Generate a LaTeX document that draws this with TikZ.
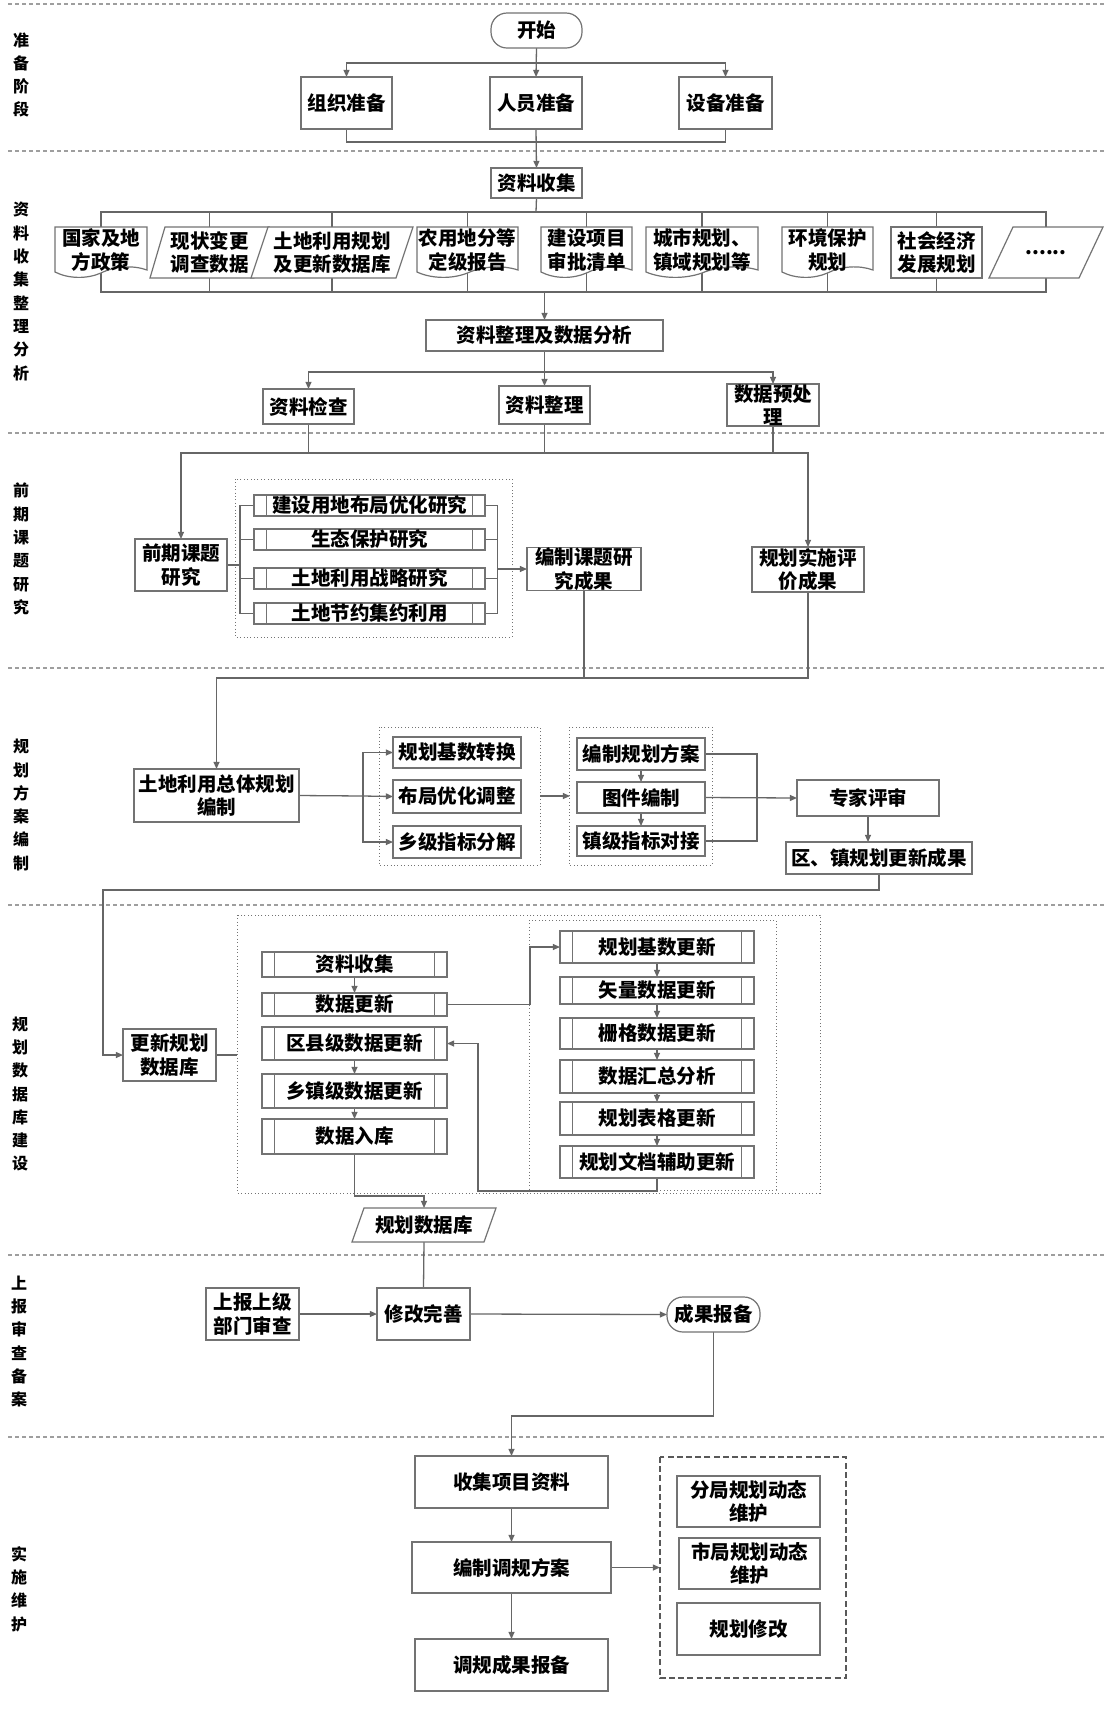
\documentclass[tikz,border=0pt]{standalone}
\usepackage{fontspec}
\setmainfont{Noto Sans CJK SC}
\usetikzlibrary{arrows.meta,backgrounds,calc}
\definecolor{boxc}{gray}{0.45}
\definecolor{linec}{gray}{0.4}
\definecolor{sepc}{gray}{0.62}
\definecolor{dotc}{gray}{0.45}
\tikzset{
  box/.style={draw=boxc, line width=0.6pt, fill=white, inner sep=0pt, outer sep=0pt, align=center,
    font=\fontsize{9.75}{11.65}\selectfont\bfseries},
  boxline/.style={draw=boxc, line width=0.6pt},
  conn/.style={draw=linec, line width=0.65pt},
  arr/.style={conn, -{Triangle[length=3.6pt,width=3pt]}},
  sepline/.style={draw=sepc, line width=0.6pt, dash pattern=on 2pt off 1.5pt},
  dotbox/.style={draw=dotc, line width=0.5pt, dash pattern=on 0.5pt off 1.2pt},
  dashbox/.style={draw=gray!70!black, line width=0.7pt, dash pattern=on 3pt off 1.6pt},
  lab/.style={inner sep=0pt, align=center, font=\fontsize{8}{11.65}\selectfont\bfseries}
}
\newcommand\Bx[7][]{\node[box,#1,minimum width={(#5-#3)*0.5pt},minimum height={(#6-#4)*0.5pt}] (#2) at ({(#3+#5)/2},{(#4+#6)/2}) {#7};}
\newcommand\Pbx[6]{\Bx{#1}{#2}{#3}{#4}{#5}{#6}\draw[boxline] ({#2+12.5},{#3}) -- ({#2+12.5},{#5}) ({#4-12.5},{#3}) -- ({#4-12.5},{#5});}
\newcommand\Dbx[6]{\draw[boxline,fill=white] ({#2},{#5-6}) -- ({#2},{#3}) -- ({#4},{#3}) -- ({#4},{#5-8})
  .. controls ({#2+0.85*(#4-#2)},{#5-13}) and ({#2+0.65*(#4-#2)},{#5-12}) .. ({#2+0.5*(#4-#2)},{#5-5})
  .. controls ({#2+0.35*(#4-#2)},{#5+1}) and ({#2+0.15*(#4-#2)},{#5+1}) .. ({#2},{#5-6}) -- cycle;
  \node[box,draw=none,fill=none,minimum width={(#4-#2)*0.5pt},minimum height={(#5-#3)*0.5pt}] (#1) at ({(#2+#4)/2},{(#3+#5)/2}) {\raisebox{1.5pt}{\begin{tabular}{@{}c@{}}#6\end{tabular}}};}
\newcommand\Gbx[7]{\draw[boxline,fill=white] ({#2+#6},{#3}) -- ({#4},{#3}) -- ({#4-#6},{#5}) -- ({#2},{#5}) -- cycle;
  \node[box,draw=none,fill=none,minimum width={(#4-#2)*0.5pt},minimum height={(#5-#3)*0.5pt}] (#1) at ({(#2+#4)/2},{(#3+#5)/2}) {#7};}

\begin{document}
\begin{tikzpicture}[x=0.5pt,y=-0.5pt]
\useasboundingbox (0,0) rectangle (1104,1715);

% ---------- left labels
\node[lab] (L1) at (21,75) {准\\备\\阶\\段};
\node[lab] (L2) at (21,291.5) {资\\料\\收\\集\\整\\理\\分\\析};
\node[lab] (L3) at (21,549) {前\\期\\课\\题\\研\\究};
\node[lab] (L4) at (21,805) {规\\划\\方\\案\\编\\制};
\node[lab] (L5) at (20,1094) {规\\划\\数\\据\\库\\建\\设};
\node[lab] (L6) at (19,1341.5) {上\\报\\审\\查\\备\\案};
\node[lab] (L7) at (19,1589) {实\\施\\维\\护};

% ---------- stage 1
\Bx[rounded corners=8pt]{start}{491}{13}{582}{48}{开始}
\Bx{zz}{301}{77}{392}{129}{组织准备}
\Bx{ry}{490}{77}{582}{129}{人员准备}
\Bx{sb}{679}{77}{772}{129}{设备准备}

% ---------- stage 2
\Bx{zlsj}{491}{168}{582}{198}{资料收集}
\Dbx{s1}{55}{227}{147}{278}{国家及地\\方政策}
\Gbx{s2}{150}{227}{269}{278}{15}{现状变更\\调查数据}
\Gbx{s3}{251}{227}{413}{278}{17}{土地利用规划\\及更新数据库}
\Dbx{s4}{417}{227}{518}{278}{农用地分等\\定级报告}
\Dbx{s5}{541}{227}{632}{278}{建设项目\\审批清单}
\Dbx{s6}{646}{227}{758}{278}{城市规划、\\镇域规划等}
\Dbx{s7}{782}{227}{873}{278}{环境保护\\规划}
\Bx{s8}{891}{227}{982}{278}{社会经济\\发展规划}
\Gbx{s9}{989}{227}{1103}{278}{24}{......}
\Bx{zlfx}{426}{320}{663}{351}{资料整理及数据分析}
\Bx{zljc}{263}{389}{354}{424}{资料检查}
\Bx{zlzl}{499}{386}{590}{424}{资料整理}
\Bx{sjycl}{727}{384}{819}{426}{数据预处\\理}

% ---------- stage 3
\Bx{qqkt}{135}{539}{227}{591}{前期课题\\研究}
\Pbx{k1}{254}{495}{485}{516}{建设用地布局优化研究}
\Pbx{k2}{254}{529}{485}{550}{生态保护研究}
\Pbx{k3}{254}{568}{485}{589}{土地利用战略研究}
\Pbx{k4}{254}{603}{485}{624}{土地节约集约利用}
\Bx{bzkt}{527}{548}{641}{590}{编制课题研\\究成果}
\Bx{ghss}{752}{547}{864}{592}{规划实施评\\价成果}

% ---------- stage 4
\Bx{ztgh}{134}{769}{299}{822}{土地利用总体规划\\编制}
\Bx{g1}{393}{737}{521}{768}{规划基数转换}
\Bx{g2}{393}{780}{521}{813}{布局优化调整}
\Bx{g3}{393}{826}{521}{858}{乡级指标分解}
\Bx{h1}{577}{738}{705}{770}{编制规划方案}
\Bx{h2}{577}{782}{705}{813}{图件编制}
\Bx{h3}{577}{826}{705}{856}{镇级指标对接}
\Bx{zjps}{797}{780}{939}{816}{专家评审}
\Bx{qzgh}{786}{842}{972}{874}{区、镇规划更新成果}

% ---------- stage 5
\Bx{gxgh}{123}{1029}{216}{1081}{更新规划\\数据库}
\Pbx{m1}{262}{952}{447}{977}{资料收集}
\Pbx{m2}{262}{993}{447}{1016}{数据更新}
\Pbx{m3}{262}{1027}{447}{1060}{区县级数据更新}
\Pbx{m4}{262}{1074}{447}{1108}{乡镇级数据更新}
\Pbx{m5}{262}{1119}{447}{1154}{数据入库}
\Pbx{n1}{560}{931}{754}{963}{规划基数更新}
\Pbx{n2}{560}{977}{754}{1004}{矢量数据更新}
\Pbx{n3}{560}{1018}{754}{1049}{栅格数据更新}
\Pbx{n4}{560}{1060}{754}{1093}{数据汇总分析}
\Pbx{n5}{560}{1102}{754}{1135}{规划表格更新}
\Pbx{n6}{560}{1146}{754}{1178}{规划文档辅助更新}
\Gbx{ghsjk}{352}{1208}{496}{1242}{12}{规划数据库}

% ---------- stage 6
\Bx{sbsj}{206}{1288}{299}{1340}{上报上级\\部门审查}
\Bx{xgws}{377}{1288}{470}{1340}{修改完善}
\Bx[rounded corners=8pt]{cgbb}{667}{1297}{760}{1332}{成果报备}

% ---------- stage 7
\Bx{sjxm}{415}{1456}{608}{1508}{收集项目资料}
\Bx{bztg}{412}{1542}{611}{1593}{编制调规方案}
\Bx{tgcg}{415}{1639}{608}{1691}{调规成果报备}
\Bx{fj}{677}{1476}{820}{1527}{分局规划动态\\维护}
\Bx{sj}{679}{1538}{820}{1589}{市局规划动态\\维护}
\Bx{ghxg}{677}{1603}{820}{1655}{规划修改}

\begin{pgfonlayer}{background}
\fill[white] (0,0) rectangle (1104,1715);
% separators
\foreach \yy in {4,151,433,668,905,1255,1437}
  \draw[sepline] (8,\yy) -- (1104,\yy);
% group boxes
\draw[dotbox] (235,479) rectangle (512,637);
\draw[dotbox] (379,727) rectangle (540,865);
\draw[dotbox] (569,727) rectangle (712,865);
\draw[dotbox] (237,915) rectangle (820,1193);
\draw[dotbox] (529,920) rectangle (776,1190);
\draw[dashbox] (660,1457) rectangle (846,1678);

% stage 1 connectors
\coordinate (j1) at (536,63);
\coordinate (j2) at (536,142);
\draw[arr] (start.south) -- (ry.north);
\draw[arr] (j1) -| (zz.north);
\draw[arr] (j1) -| (sb.north);
\draw[conn] (zz.south) |- (j2) -| (sb.south);
\draw[arr] (ry.south) -- (zlsj.north);

% stage 2 connectors
\coordinate (tb) at (536,212);
\coordinate (bb) at (544.5,292);
\draw[conn] (zlsj.south) -- (tb);
\draw[conn] (s1.center) |- (tb) -| (s9.center);
\draw[conn] (s1.center) |- (bb) -| (s9.center);
\foreach \s in {s2,s3,s4,s5,s6,s7,s8}{
  \draw[conn] (\s.center |- tb) -- (\s.center |- bb);
}
\draw[arr] (bb) -- (zlfx.north);
\coordinate (b3) at (544.5,372);
\draw[arr] (zlfx.south) -- (zlzl.north);
\draw[arr] (b3) -| (zljc.north);
\draw[arr] (b3) -| (sjycl.north);

% stage 3 connectors
\coordinate (b4) at (544.5,453);
\draw[conn] (zljc.south) |- (b4);
\draw[conn] (zlzl.south) -- (b4);
\draw[conn] (sjycl.south) -- (sjycl.south |- b4);
\draw[arr] (b4) -| (qqkt.north);
\draw[arr] (b4) -| (ghss.north);
\coordinate (lb) at (240,565);
\coordinate (rb) at (497.5,569);
\draw[conn] (qqkt.east) -- (lb);
\foreach \k in {k1,k2,k3,k4}{
  \draw[conn] (\k.west) -| (lb);
  \draw[conn] (\k.east) -| (rb);
}
\draw[arr] (rb) -- (bzkt.west);

% stage 4 connectors
\coordinate (b5) at (584,678);
\draw[conn] (bzkt.south) -- (b5);
\draw[conn] (ghss.south) |- (b5);
\draw[arr] (b5) -| (ztgh.north);
\coordinate (lb2) at (363,796);
\draw[conn] (ztgh.east) -- (lb2);
\draw[arr] (lb2) |- (g1.west);
\draw[arr] (lb2) -- (g2.west);
\draw[arr] (lb2) |- (g3.west);
\coordinate (d2r) at (540,796);
\coordinate (d3l) at (570,796);
\draw[arr] (d2r) -- (d3l);
\draw[arr] (h1.south) -- (h2.north);
\draw[arr] (h2.south) -- (h3.north);
\coordinate (rb3) at (757,798);
\draw[conn] (h1.east) -| (rb3);
\draw[conn] (h3.east) -| (rb3);
\draw[arr] (h2.east) -- (zjps.west);
\draw[arr] (zjps.south) -- (zjps.south |- qzgh.north);
\coordinate (c6) at (103,890);
\draw[arr] (qzgh.south) |- (c6) |- (gxgh.west);

% stage 5 connectors
\coordinate (od) at (237,1055);
\draw[conn] (gxgh.east) -- (od);
\draw[arr] (m1.south) -- (m2.north);
\draw[arr] (m3.south) -- (m4.north);
\draw[arr] (m4.south) -- (m5.north);
\draw[arr] (n1.south) -- (n2.north);
\draw[arr] (n2.south) -- (n3.north);
\draw[arr] (n3.south) -- (n4.north);
\draw[arr] (n4.south) -- (n5.north);
\draw[arr] (n5.south) -- (n6.north);
\coordinate (c7) at (530,947);
\draw[arr] (m2.east) -| (c7) -- (n1.west);
\coordinate (c8) at (478,1191);
\draw[arr] (n6.south) |- (c8) |- (m3.east);
\coordinate (c9) at (424,1196);
\draw[arr] (m5.south) |- (c9) -- (ghsjk.north);
\draw[conn] (ghsjk.south) -- (xgws.north);

% stage 6 connectors
\draw[arr] (sbsj.east) -- (xgws.west);
\draw[arr] (xgws.east) -- (cgbb.west);
\coordinate (c10) at (511.5,1416);
\draw[arr] (cgbb.south) |- (c10) -- (sjxm.north);

% stage 7 connectors
\draw[arr] (sjxm.south) -- (bztg.north);
\draw[arr] (bztg.south) -- (tgcg.north);
\coordinate (c11) at (660,1567.5);
\draw[arr] (bztg.east) -- (c11);
\end{pgfonlayer}
\end{tikzpicture}
\end{document}
